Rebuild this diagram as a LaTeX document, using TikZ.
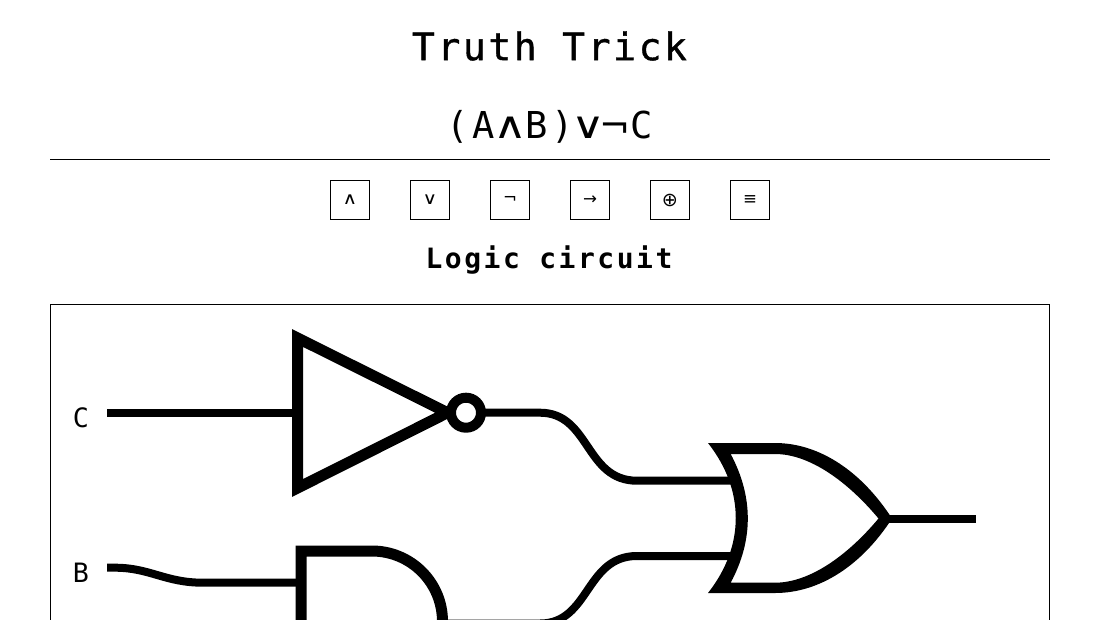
\documentclass[tikz,border=0pt]{standalone}
\usepackage{fontspec}
\setmainfont{DejaVu Sans}
\newfontfamily\titlefont[LetterSpace=6.8,FakeBold=1]{DejaVu Sans Mono}
\newfontfamily\formulafont{DejaVu Sans Mono}
\newfontfamily\headfont[LetterSpace=9]{DejaVu Sans Mono Bold}
\newcommand{\fc}[1]{\makebox[19.7pt][c]{#1}}
\tikzset{
  x=0.75pt,y=-0.75pt,
  wire/.style={line width=6pt,draw=black},
  gate/.style={line width=8.25pt,draw=black,miter limit=10,line join=miter},
  opbox/.style={draw=black,line width=0.75pt,minimum size=29.25pt,inner sep=0pt,font=\fontsize{12.5}{12.5}\selectfont},
  lab/.style={inner sep=0pt,font=\formulafont\fontsize{20}{20}\selectfont},
}
\begin{document}
\begin{tikzpicture}
\useasboundingbox (0,0) rectangle (1100,619);
\begin{scope}
\clip (0,0) rectangle (1100,619);
\node[inner sep=0pt] (title) at (549.5,46) {\titlefont\fontsize{28.5}{28.5}\selectfont Truth Trick};
\node[inner sep=0pt] (formula) at (549.5,127) {\fontsize{27.8}{27.8}\selectfont\fc{\formulafont(}\fc{\formulafont A}\fc{\scalebox{1.25}[1]{∧}}\fc{\formulafont B}\fc{\formulafont)}\fc{\scalebox{1.25}[1]{∨}}\fc{¬}\fc{\formulafont C}};
\coordinate (ruleL) at (50,159.5);
\coordinate (ruleR) at (1050,159.5);
\draw[line width=0.75pt] (ruleL) -- (ruleR);
\node[opbox] (op1) at (350,200) {\scalebox{1.2}[1]{∧}};
\node[opbox] (op2) at (430,200) {\scalebox{1.2}[1]{∨}};
\node[opbox] (op3) at (510,200) {¬};
\node[opbox] (op4) at (590,200) {→};
\node[opbox] (op5) at (670,200) {\scalebox{1.15}{⊕}};
\node[opbox] (op6) at (750,200) {≡};
\node[inner sep=0pt] (head) at (549,260.5) {\headfont\fontsize{21}{21}\selectfont Logic circuit};
\draw[line width=0.75pt] (50.5,304.5) rectangle (1049.5,700);
\node[lab] (labC) at (81,418) {C};
\node[lab] (labB) at (81,573) {B};
\coordinate (cIn) at (107,412.7);
\coordinate (bIn) at (107,567.7);
\coordinate (notIn) at (297.5,412.7);
\coordinate (andIn) at (301,582.7);
\coordinate (notOut) at (481,412.7);
\coordinate (orIn1) at (735,480.7);
\coordinate (orIn2) at (735,556);
\coordinate (andOut) at (442,623.5);
\coordinate (orOut) at (885,518.5);
\coordinate (out) at (975.6,518.5);
\draw[wire] (cIn) -- (notIn);
\draw[wire] (bIn) -- (115,567.7) .. controls (150,567.7) and (165,582.7) .. (203,582.7) -- (andIn);
\draw[wire] (notOut) -- (540,412.7) .. controls (590,412.7) and (585,480.7) .. (637,480.7) -- (orIn1);
\draw[wire] (andOut) -- (540,623.5) .. controls (590,623.5) and (585,556) .. (637,556) -- (orIn2);
\draw[wire] (orOut) -- (out);
\draw[gate,fill=white] (297.5,338) -- (447.5,412.7) -- (297.5,488) -- cycle;
\draw[line width=7.5pt,fill=white] (466,412.7) circle (15);
\draw[gate] (301,720) -- (301,551) -- (372,551) arc[start angle=-90,end angle=0,radius=70.5];
\fill[black,even odd rule]
  (708,443) -- (775,443) .. controls (820,443) and (862,472) .. (892,518.5)
  .. controls (862,565) and (820,593) .. (775,593) -- (708,593)
  .. controls (745,546) and (745,490) .. (708,443) -- cycle
  (730.7,454) -- (775,454) .. controls (810,454) and (848,482) .. (878.5,518.5)
  .. controls (848,555) and (810,582.7) .. (775,582.7) -- (730.7,582.7)
  .. controls (753.5,540) and (753.5,497) .. (730.7,454) -- cycle;
\end{scope}
\end{tikzpicture}
\end{document}
